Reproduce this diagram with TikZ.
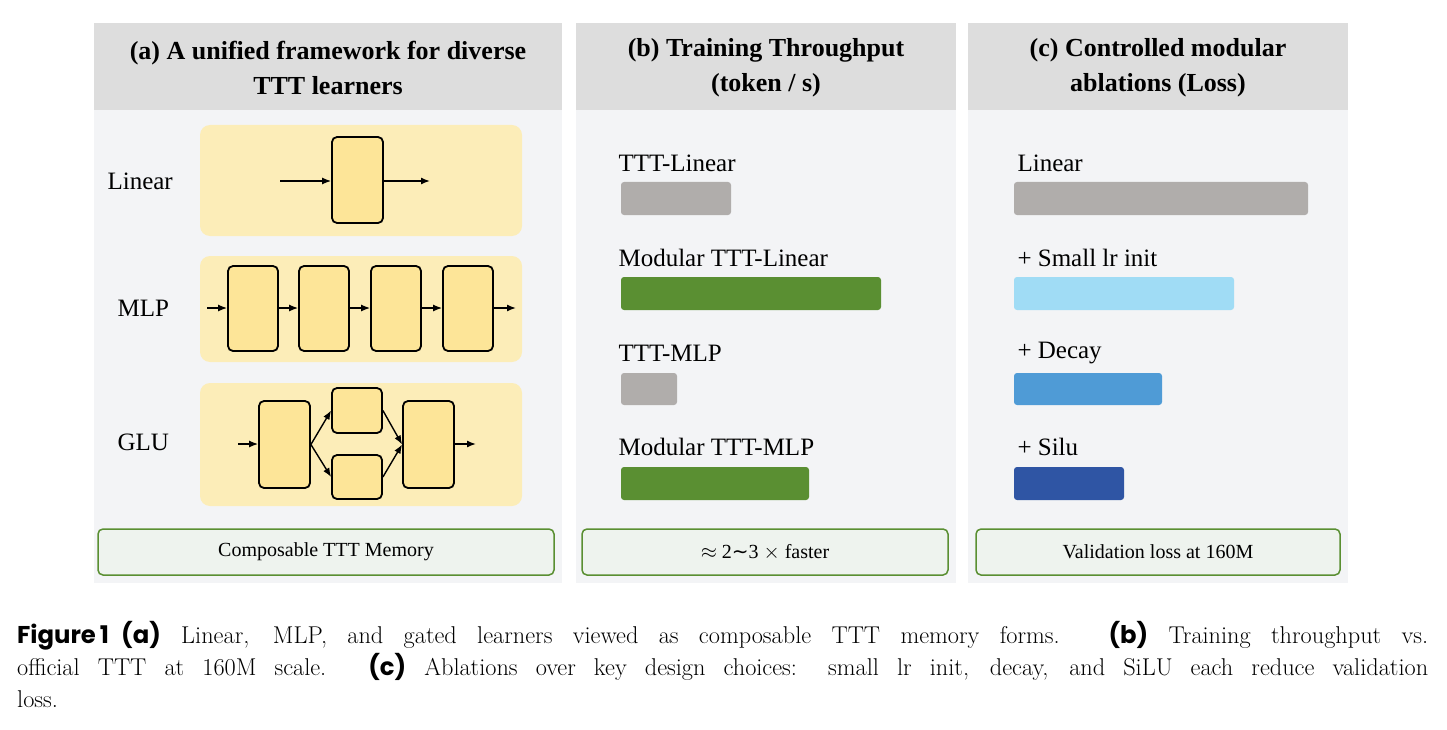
\documentclass[tikz,border=0pt]{standalone}
\usepackage{fontspec}
\setmainfont{Liberation Serif}
\newfontfamily\lmr{Latin Modern Roman}
\newfontfamily\pop{Poppins}
\usetikzlibrary{arrows.meta}
\definecolor{hdr}{HTML}{DDDDDD}
\definecolor{pbg}{HTML}{F3F4F6}
\definecolor{ylw}{HTML}{FCEDB8}
\definecolor{ybox}{HTML}{FDE598}
\definecolor{grn}{HTML}{5A8F32}
\definecolor{gbg}{HTML}{EEF3EE}
\definecolor{gry}{HTML}{B0ADAB}
\definecolor{lblue}{HTML}{A0DCF5}
\definecolor{mblue}{HTML}{4F9BD6}
\definecolor{dblue}{HTML}{2F55A4}
\begin{document}
\begin{tikzpicture}[x=1pt,y=-1pt,
  htext/.style={font=\fontsize{26}{35}\selectfont\bfseries,align=center},
  lab/.style={font=\fontsize{25}{28}\selectfont,anchor=west},
  mbx/.style={fill=ybox,draw=black,line width=1.8pt,rounded corners=5pt},
  ar/.style={-{Latex[length=9pt,width=7pt]},line width=1.4pt},
  gb/.style={fill=gbg,draw=grn,line width=1.5pt,rounded corners=5pt,font=\fontsize{20}{22}\selectfont}]
\useasboundingbox (0,0) rectangle (1447,730);
\fill[white] (0,0) rectangle (1447,730);
% panels
\foreach \a/\b in {94/562,576/956,968/1348}{
  \fill[pbg] (\a,23) rectangle (\b,583);
  \fill[hdr] (\a,23) rectangle (\b,110);}
\node[htext] (ha) at (328,68) {(a) A unified framework for diverse\\TTT learners};
\node[htext] (hb) at (766,68) {(b) Training Throughput\\(token / s)};
\node[htext] (hc) at (1158,68) {(c) Controlled modular\\ablations (Loss)};
% panel a
\node[lab] (l1) at (104,181) {Linear};
\node[lab] (l2) at (114,308) {MLP};
\node[lab] (l3) at (114,442) {GLU};
\fill[ylw,rounded corners=10pt] (200,125) rectangle (522,236);
\fill[ylw,rounded corners=10pt] (200,256) rectangle (522,362);
\fill[ylw,rounded corners=10pt] (200,383) rectangle (522,506);
\node[mbx,minimum width=51pt,minimum height=86pt] (L) at (357.5,180) {};
\coordinate (Li) at (280,181); \coordinate (Lo) at (430,181);
\draw[ar] (Li) -- (L.west|-Li); \draw[ar] (L.east|-Lo) -- (Lo);
\foreach \i/\x in {1/253,2/324,3/396,4/468}{
  \node[mbx,minimum width=50pt,minimum height=85pt] (M\i) at (\x,308.5) {};}
\coordinate (Mi) at (207,308); \coordinate (Mo) at (516,308);
\draw[ar] (Mi) -- (M1.west|-Mi);
\draw[ar] (M1.east|-Mi) -- (M2.west|-Mi);
\draw[ar] (M2.east|-Mi) -- (M3.west|-Mi);
\draw[ar] (M3.east|-Mi) -- (M4.west|-Mi);
\draw[ar] (M4.east|-Mi) -- (Mo);
\node[mbx,minimum width=51pt,minimum height=87pt] (G1) at (284.5,444.5) {};
\node[mbx,minimum width=50pt,minimum height=45pt] (G2) at (357,410.5) {};
\node[mbx,minimum width=50pt,minimum height=44pt] (G3) at (357,477) {};
\node[mbx,minimum width=51pt,minimum height=87pt] (G4) at (428.5,444.5) {};
\coordinate (Gi) at (238,444); \coordinate (Go) at (476,444);
\draw[ar] (Gi) -- (G1.west|-Gi);
\draw[ar] (G1.east) -- (G2.west);
\draw[ar] (G1.east) -- (G3.west);
\draw[ar] (G2.east) -- (G4.west);
\draw[ar] (G3.east) -- (G4.west);
\draw[ar] (G4.east|-Go) -- (Go);
\node[gb,minimum width=456pt,minimum height=46pt] (ba) at (326,552) {Composable TTT Memory};
% panel b
\node[lab] (b1) at (615,163) {TTT-Linear};
\fill[gry,rounded corners=3pt] (621,182) rectangle (731,215);
\node[lab] (b2) at (615,258) {Modular TTT-Linear};
\fill[grn,rounded corners=3pt] (621,277) rectangle (881,310);
\node[lab] (b3) at (615,353) {TTT-MLP};
\fill[gry,rounded corners=3pt] (621,373) rectangle (677,405);
\node[lab] (b4) at (615,447) {Modular TTT-MLP};
\fill[grn,rounded corners=3pt] (621,467) rectangle (809,500);
\node[gb,minimum width=366pt,minimum height=46pt] (bb) at (765,552) {$\approx$ 2{\fontspec{DejaVu Sans}\char"223C}3 $\times$ faster};
% panel c
\node[lab] (c1) at (1014,163) {Linear};
\fill[gry,rounded corners=3pt] (1014,182) rectangle (1308,215);
\node[lab] (c2) at (1014,258) {+ Small lr init};
\fill[lblue,rounded corners=3pt] (1014,277) rectangle (1234,310);
\node[lab] (c3) at (1014,353) {+ Decay};
\fill[mblue,rounded corners=3pt] (1014,373) rectangle (1162,405);
\node[lab] (c4) at (1014,447) {+ Silu};
\fill[dblue,rounded corners=3pt] (1014,467) rectangle (1124,500);
\node[gb,minimum width=364pt,minimum height=46pt] (bc) at (1158,552) {Validation loss at 160M};
% caption
\node[anchor=base west,inner sep=0,font=\lmr\fontsize{24.3}{32}\selectfont] (cap1) at (17,643)
 {\makebox[1411pt][s]{{\pop\bfseries Figure\,1\hspace{0.5em}(a)} Linear, MLP, and gated learners viewed as composable TTT memory forms. {\pop\bfseries (b)} Training throughput vs.}};
\node[anchor=base west,inner sep=0,font=\lmr\fontsize{24.3}{32}\selectfont] (cap2) at (17,675)
 {\makebox[1411pt][s]{official TTT at 160M scale. {\pop\bfseries (c)} Ablations over key design choices: small lr init, decay, and SiLU each reduce validation}};
\node[anchor=base west,inner sep=0,font=\lmr\fontsize{24.3}{32}\selectfont] (cap3) at (17,707) {loss.};
\end{tikzpicture}
\end{document}
